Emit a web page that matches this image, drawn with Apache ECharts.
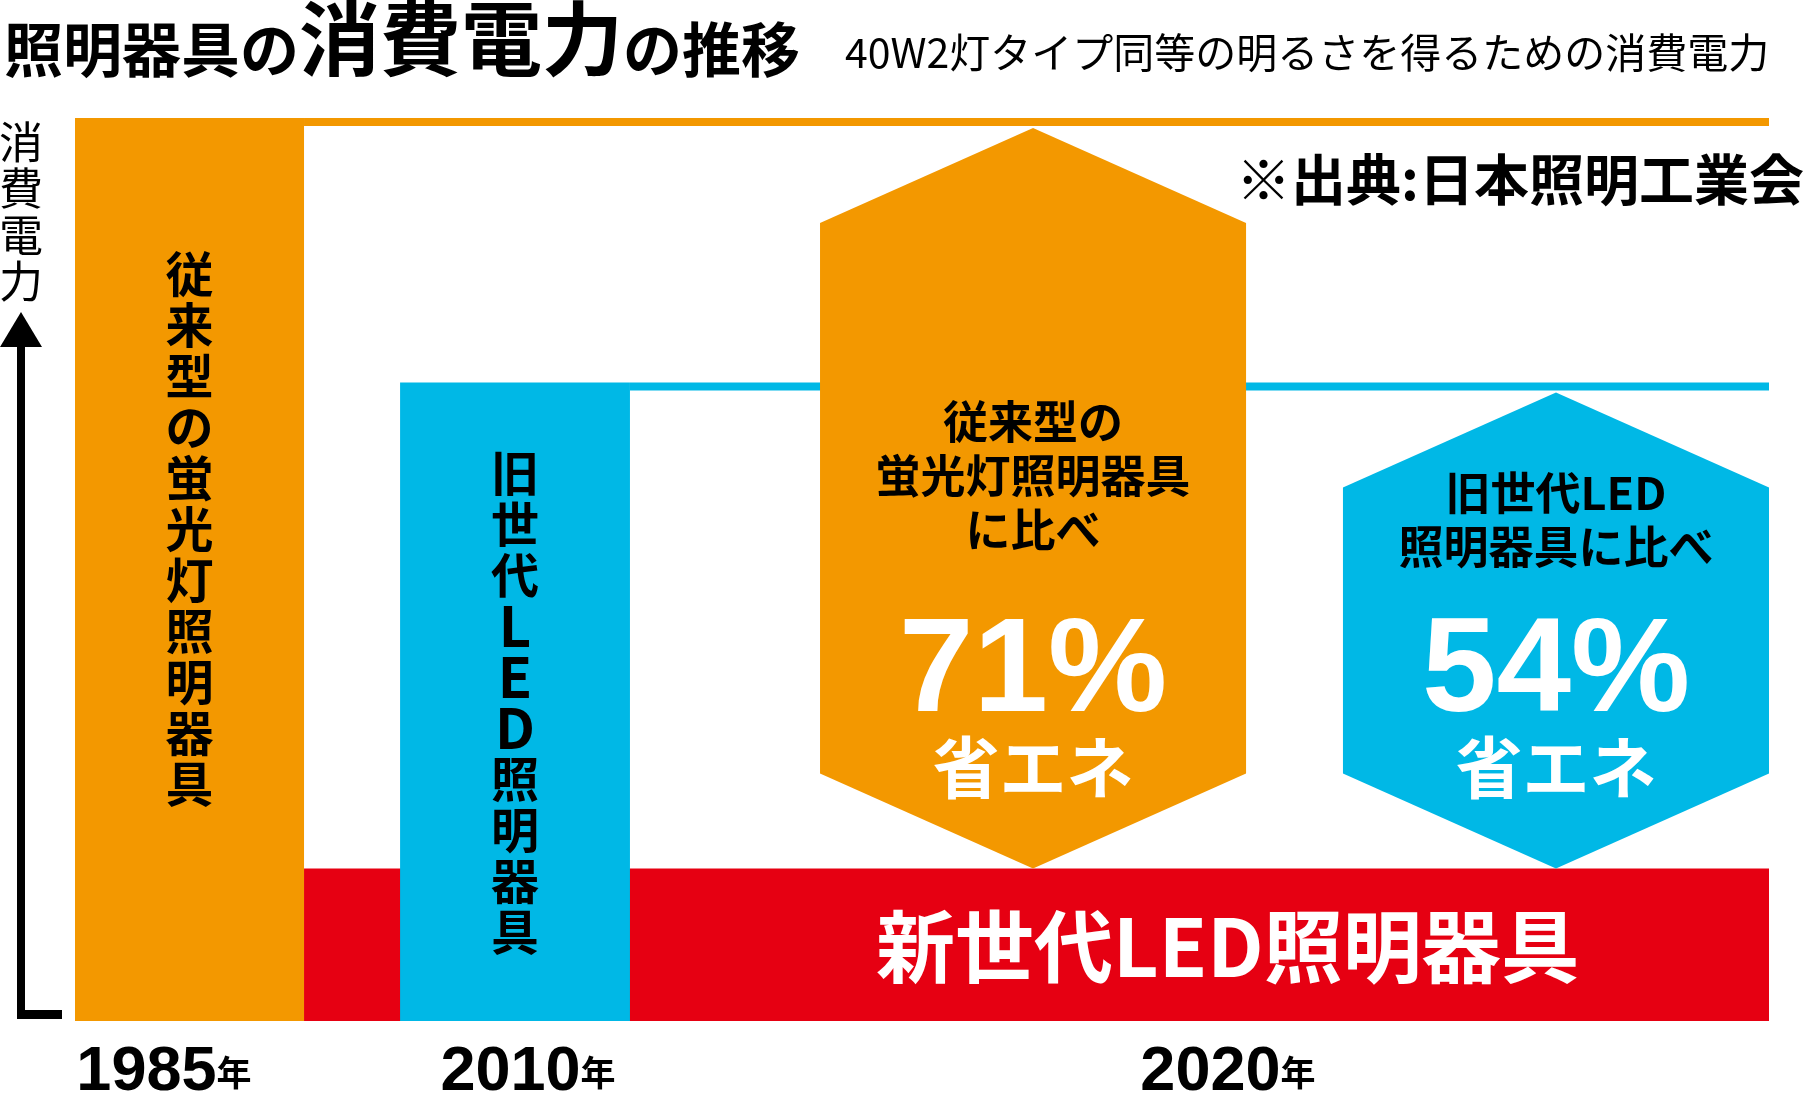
<!DOCTYPE html>
<html><head><meta charset="utf-8">
<script src="https://cdn.jsdelivr.net/npm/echarts@6/dist/echarts.min.js"></script>
<style>html,body{margin:0;padding:0;background:#fff}#chart{width:1809px;height:1093px}</style>
</head><body><div id="chart"></div>
<script>
// ---- data ----
const categories = ['1985', '2010', '2020'];
const yearSuffix = '年';
const productNames = ['従来型の蛍光灯照明器具', '旧世代LED照明器具', '新世代LED照明器具'];
const powerValues = [100, 70.7, 16.9];          // relative heights as pictured
const savingsPercent = [71, 54];
const savingsBasis = ['従来型の\n蛍光灯照明器具\nに比べ', '旧世代LED\n照明器具に比べ'];
const savingsWord = '省エネ';
const titleParts = ['照明器具の', '消費電力', 'の推移'];
const subtitleText = '40W2灯タイプ同等の明るさを得るための消費電力';
const sourceText = '※出典:日本照明工業会';
const yAxisName = '消費電力';

// ---- styles / layout ----
const COLORS = ['#F39800', '#00B8E6', '#E60012'];
const JP = '"Noto Sans CJK JP", sans-serif';
const LAT = '"Liberation Sans", Arial, sans-serif';
const LAYOUT = {
  bars: [[0, 13.52], [19.19, 32.76], [13.52, 100]],
  hexes: [[43.98, 69.13], [74.85, 100]],
  labels: [5.25, 26.74, 68.06],
  barTextY: [0.455, 0.5],
  lineWidth: 8,
  cap: 95,
  descOffset: [392, 348],
  pctOffset: 194,
  wordOffset: 101
};

function verticalRich(str) {
  return Array.from(str).map(ch => (/[A-Za-z]/.test(ch) ? '{l|' + ch + '}' : '{c|' + ch + '}')).join('\n');
}

function renderBars(params, api) {
  const i = params.dataIndex;
  const v = api.value(1);
  const [x0, x1] = LAYOUT.bars[i];
  const tl = api.coord([x0, v]);
  const br = api.coord([x1, 0]);
  const children = [{
    type: 'rect', z2: i === 2 ? 0 : 2,
    shape: { x: tl[0], y: tl[1], width: br[0] - tl[0], height: br[1] - tl[1] },
    style: { fill: COLORS[i] }
  }];
  if (i < 2) {
    children.push({
      type: 'text', z2: 10,
      style: {
        text: verticalRich(productNames[i]),
        x: (tl[0] + br[0]) / 2, y: tl[1] + (br[1] - tl[1]) * LAYOUT.barTextY[i],
        align: 'center', verticalAlign: 'middle',
        rich: {
          c: { fontSize: 48, lineHeight: 51, fontWeight: 'bold', fontFamily: JP, fill: '#000', align: 'center' },
          l: { fontSize: 56, lineHeight: 51, fontWeight: 'bold', fontFamily: JP, fill: '#000', align: 'center' }
        }
      }
    });
  } else {
    const cx = api.coord([LAYOUT.labels[2], 0])[0];
    children.push({
      type: 'text', z2: 10,
      style: {
        text: productNames[2], x: cx, y: (tl[1] + br[1]) / 2 + 2,
        align: 'center', verticalAlign: 'middle',
        fontSize: 79, fontWeight: 'bold', fontFamily: JP, fill: '#fff'
      }
    });
  }
  return { type: 'group', children };
}

function renderLevels(params, api) {
  const i = params.dataIndex;
  const v = api.value(1);
  const a = api.coord([LAYOUT.bars[i][1], v]);
  const b = api.coord([100, v]);
  return {
    type: 'rect',
    shape: { x: a[0], y: a[1], width: b[0] - a[0], height: LAYOUT.lineWidth },
    style: { fill: COLORS[i] }
  };
}

function renderHex(params, api) {
  const i = params.dataIndex;
  const pct = api.value(1);
  const [x0, x1] = LAYOUT.hexes[i];
  const top = api.coord([x0, powerValues[i]])[1] + LAYOUT.lineWidth + 2;
  const bot = api.coord([x0, powerValues[2]])[1];
  const xl = api.coord([x0, 0])[0], xr = api.coord([x1, 0])[0], xc = (xl + xr) / 2;
  const c = LAYOUT.cap;
  return {
    type: 'group',
    children: [
      { type: 'polygon', z2: 1,
        shape: { points: [[xl, top + c], [xc, top], [xr, top + c], [xr, bot - c], [xc, bot], [xl, bot - c]] },
        style: { fill: COLORS[i] } },
      { type: 'text', z2: 5,
        style: { text: savingsBasis[i], x: xc, y: bot - LAYOUT.descOffset[i], align: 'center', verticalAlign: 'middle',
          fontSize: 45, lineHeight: 54, fontWeight: 'bold', fontFamily: JP, fill: '#000' } },
      { type: 'text', z2: 5,
        style: { text: pct + '%', x: xc, y: bot - LAYOUT.pctOffset, align: 'center', verticalAlign: 'middle',
          fontSize: 134, fontWeight: 'bold', fontFamily: LAT, fill: '#fff' } },
      { type: 'text', z2: 5,
        style: { text: savingsWord, x: xc, y: bot - LAYOUT.wordOffset, align: 'center', verticalAlign: 'middle',
          fontSize: 67, fontWeight: 'bold', fontFamily: JP, fill: '#fff' } }
    ]
  };
}

const chart = echarts.init(document.getElementById('chart'), null, { renderer: 'canvas' });
chart.setOption({
  animation: false,
  backgroundColor: '#fff',
  grid: { left: 75, right: 40, top: 118, bottom: 72, containLabel: false, outerBoundsMode: 'none' },
  xAxis: {
    type: 'value', min: 0, max: 100,
    axisLine: { show: false }, axisTick: { show: false }, splitLine: { show: false },
    axisLabel: {
      customValues: LAYOUT.labels,
      margin: 31,
      formatter: function (v) {
        let k = 0, d = Infinity;
        LAYOUT.labels.forEach((p, j) => { if (Math.abs(p - v) < d) { d = Math.abs(p - v); k = j; } });
        return '{n|' + categories[k] + '}{u|' + yearSuffix + '}';
      },
      rich: {
        n: { fontFamily: LAT, fontWeight: 'bold', fontSize: 63, lineHeight: 42, color: '#000', verticalAlign: 'middle' },
        u: { fontFamily: JP, fontWeight: 'bold', fontSize: 35, lineHeight: 42, color: '#000', verticalAlign: 'middle' }
      }
    }
  },
  yAxis: {
    type: 'value', min: 0, max: 100,
    axisLine: { show: false }, axisTick: { show: false }, splitLine: { show: false }, axisLabel: { show: false }
  },
  graphic: [
    { type: 'text', style: {
        text: '{s|' + titleParts[0] + '}{b|' + titleParts[1] + '}{s|' + titleParts[2] + '}',
        x: 4, y: 79, verticalAlign: 'bottom',
        rich: {
          s: { fontSize: 59, lineHeight: 59, fontWeight: 'bold', fontFamily: JP, fill: '#000', verticalAlign: 'bottom' },
          b: { fontSize: 81, lineHeight: 81, fontWeight: 'bold', fontFamily: JP, fill: '#000', verticalAlign: 'bottom' }
        } } },
    { type: 'text', style: { text: subtitleText, x: 845, y: 52, verticalAlign: 'middle',
        fontSize: 41, fontFamily: JP, fill: '#000' } },
    { type: 'text', style: { text: sourceText, x: 1804, y: 179, align: 'right', verticalAlign: 'middle',
        fontSize: 55, fontWeight: 'bold', fontFamily: JP, fill: '#000' } },
    { type: 'text', style: { text: Array.from(yAxisName).join('\n'), x: 21, y: 212, align: 'center', verticalAlign: 'middle',
        fontSize: 44, lineHeight: 46.5, fontFamily: JP, fill: '#000' } },
    { type: 'polygon', shape: { points: [[21, 312], [0, 347], [42, 347]] }, style: { fill: '#000' } },
    { type: 'rect', shape: { x: 17, y: 345, width: 8, height: 674 }, style: { fill: '#000' } },
    { type: 'rect', shape: { x: 17, y: 1010, width: 45, height: 9 }, style: { fill: '#000' } }
  ],
  series: [
    { type: 'custom', name: 'levels', renderItem: renderLevels, z: 1,
      data: powerValues.slice(0, 2).map((v, i) => [i, v]) },
    { type: 'custom', name: 'bars', renderItem: renderBars, z: 2,
      data: powerValues.map((v, i) => [i, v]) },
    { type: 'custom', name: 'savings', renderItem: renderHex, z: 3,
      data: savingsPercent.map((p, i) => [i, p]) }
  ]
});
</script></body></html>
